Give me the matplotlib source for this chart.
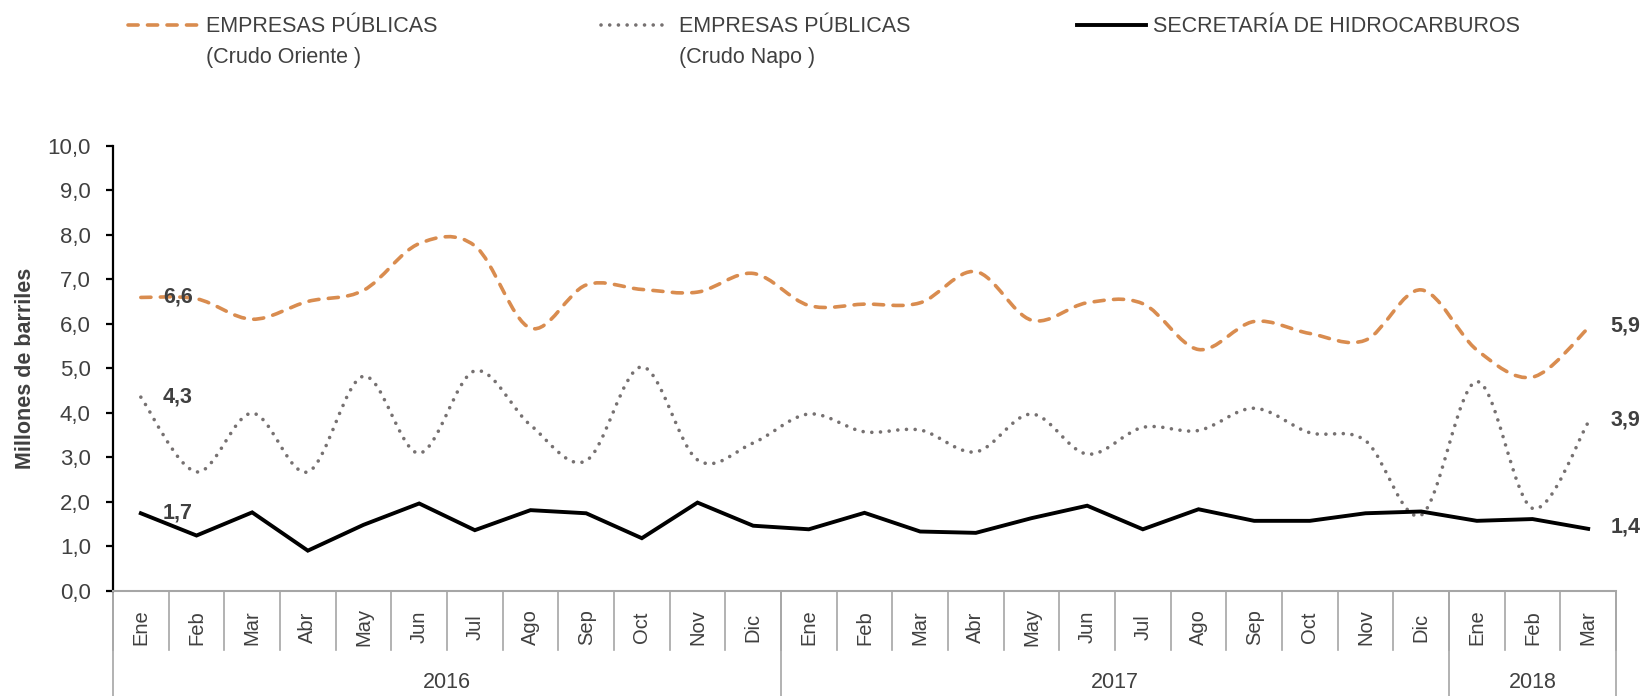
import numpy as np
import matplotlib
matplotlib.use("Agg")
import matplotlib.pyplot as plt
from matplotlib.path import Path
from matplotlib.patches import PathPatch
from matplotlib.lines import Line2D
from matplotlib import transforms
from matplotlib.ticker import FuncFormatter, MultipleLocator

plt.rcParams['font.family'] = ['Liberation Sans Narrow', 'Liberation Sans', 'DejaVu Sans']

# data (millones de barriles)
meses = ['Ene', 'Feb', 'Mar', 'Abr', 'May', 'Jun', 'Jul', 'Ago', 'Sep', 'Oct', 'Nov', 'Dic',
         'Ene', 'Feb', 'Mar', 'Abr', 'May', 'Jun', 'Jul', 'Ago', 'Sep', 'Oct', 'Nov', 'Dic',
         'Ene', 'Feb', 'Mar']
anios = ['2016', '2017', '2018']
meses_por_anio = [12, 12, 3]

oriente = [6.59, 6.56, 6.10, 6.50, 6.75, 7.80, 7.75, 5.90, 6.87, 6.77, 6.71, 7.13,
           6.41, 6.44, 6.47, 7.17, 6.08, 6.47, 6.45, 5.42, 6.05, 5.78, 5.63, 6.76,
           5.41, 4.80, 5.90]
napo = [4.35, 2.67, 3.99, 2.67, 4.82, 3.09, 4.94, 3.72, 2.92, 5.03, 2.94, 3.32,
        3.97, 3.57, 3.61, 3.12, 3.97, 3.07, 3.67, 3.60, 4.10, 3.55, 3.37, 1.70,
        4.70, 1.85, 3.78]
secretaria = [1.74, 1.24, 1.76, 0.90, 1.48, 1.96, 1.36, 1.81, 1.74, 1.18, 1.98, 1.46,
              1.38, 1.75, 1.33, 1.30, 1.63, 1.91, 1.38, 1.83, 1.57, 1.57, 1.74, 1.78,
              1.57, 1.61, 1.39]

etiq_ini = ['6,6', '4,3', '1,7']
etiq_fin = ['5,9', '3,9', '1,4']

naranja = '#D98C4F'
gris = '#767171'
texto = '#404040'
gris_eje = '#A6A6A6'

W, H = 1643, 696


def smooth_path(y):
    # excel-like smoothed line (catmull-rom as bezier)
    pts = np.column_stack([np.arange(len(y)), y]).astype(float)
    verts = [pts[0]]
    codes = [Path.MOVETO]
    n = len(pts)
    for i in range(n - 1):
        p0 = pts[i - 1] if i > 0 else pts[i]
        p3 = pts[i + 2] if i + 2 < n else pts[i + 1]
        c1 = pts[i] + (pts[i + 1] - p0) / 6
        c2 = pts[i + 1] - (p3 - pts[i]) / 6
        verts += [c1, c2, pts[i + 1]]
        codes += [Path.CURVE4] * 3
    return Path(verts, codes)


fig = plt.figure(figsize=(W / 100, H / 100), dpi=100)
ax = fig.add_axes([113 / W, 1 - 590.7 / H, (1616 - 113) / W, 445 / H])

x = np.arange(len(meses))
ax.set_xlim(-0.5, len(meses) - 0.5)
ax.set_ylim(0, 10)

dash_or = (0, (2.8, 2.6))
dot_na = (0, (0.01, 2.4))

ax.add_patch(PathPatch(smooth_path(oriente), fill=False, edgecolor=naranja, lw=2.6,
                       linestyle=dash_or, capstyle='round'))
ax.add_patch(PathPatch(smooth_path(napo), fill=False, edgecolor=gris, lw=2.6,
                       linestyle=dot_na, capstyle='round'))
ax.plot(x, secretaria, color='black', lw=2.8, solid_joinstyle='miter')

# data labels
for lab, serie in zip(etiq_ini, [oriente, napo, secretaria]):
    ax.text(0.4, serie[0], lab, fontsize=15.5, fontweight='bold', color=texto,
            ha='left', va='center')
for lab, serie in zip(etiq_fin, [oriente, napo, secretaria]):
    ax.text(26.4, serie[-1] + 0.05, lab, fontsize=15.5, fontweight='bold', color=texto,
            ha='left', va='center', clip_on=False)

# axes styling
for s in ['top', 'right']:
    ax.spines[s].set_visible(False)
ax.spines['left'].set_color('black')
ax.spines['left'].set_linewidth(1.6)
ax.spines['bottom'].set_color(gris_eje)
ax.spines['bottom'].set_linewidth(1.5)
ax.yaxis.set_major_locator(MultipleLocator(1))
ax.yaxis.set_major_formatter(FuncFormatter(lambda v, p: f"{v:.1f}".replace('.', ',')))
ax.tick_params(axis='y', direction='out', length=5, width=1.6, color='black',
               labelsize=16, labelcolor=texto, pad=11)
ax.set_xticks([])
ax.set_ylabel('Millones de barriles', fontsize=15.5, fontweight='bold', color=texto,
              labelpad=8)

# category axis (months + years)
tr = transforms.blended_transform_factory(ax.transData, ax.transAxes)
for k in range(len(meses) + 1):
    ax.plot([k - 0.5, k - 0.5], [0, -0.133], transform=tr, color=gris_eje, lw=1.2,
            clip_on=False)
for i, m in enumerate(meses):
    ax.text(i, -0.082, m, transform=tr, rotation=90, fontsize=14.5, color=texto,
            ha='center', va='center')
ini = 0
for a, n in zip(anios, meses_por_anio):
    ax.plot([ini - 0.5, ini - 0.5], [0, -0.3], transform=tr, color=gris_eje, lw=1.2,
            clip_on=False)
    ax.text(ini + (n - 1) / 2, -0.207, a, transform=tr, fontsize=15.5, color=texto,
            ha='center', va='center')
    ini += n
ax.plot([ini - 0.5, ini - 0.5], [0, -0.3], transform=tr, color=gris_eje, lw=1.2,
        clip_on=False)

# legend drawn at the top
def fx(px):
    return px / W


def fy(py):
    return 1 - py / H


leg = [
    (128, 200, 206, naranja, 2.6, dash_or, ['EMPRESAS PÚBLICAS', '(Crudo Oriente )']),
    (601, 663, 679, gris, 2.6, dot_na, ['EMPRESAS PÚBLICAS', '(Crudo Napo )']),
    (1077, 1146, 1153, 'black', 2.8, '-', ['SECRETARÍA DE HIDROCARBUROS']),
]
for x0, x1, xt, c, lw, ls, lines in leg:
    fig.add_artist(Line2D([fx(x0), fx(x1)], [fy(25), fy(25)], color=c, lw=lw,
                          linestyle=ls, dash_capstyle='round', transform=fig.transFigure))
    for j, t in enumerate(lines):
        fig.text(fx(xt), fy(26 + 32 * j), t, fontsize=15.5, color=texto,
                 ha='left', va='center')

fig.savefig('out.png', dpi=100, facecolor='white')
